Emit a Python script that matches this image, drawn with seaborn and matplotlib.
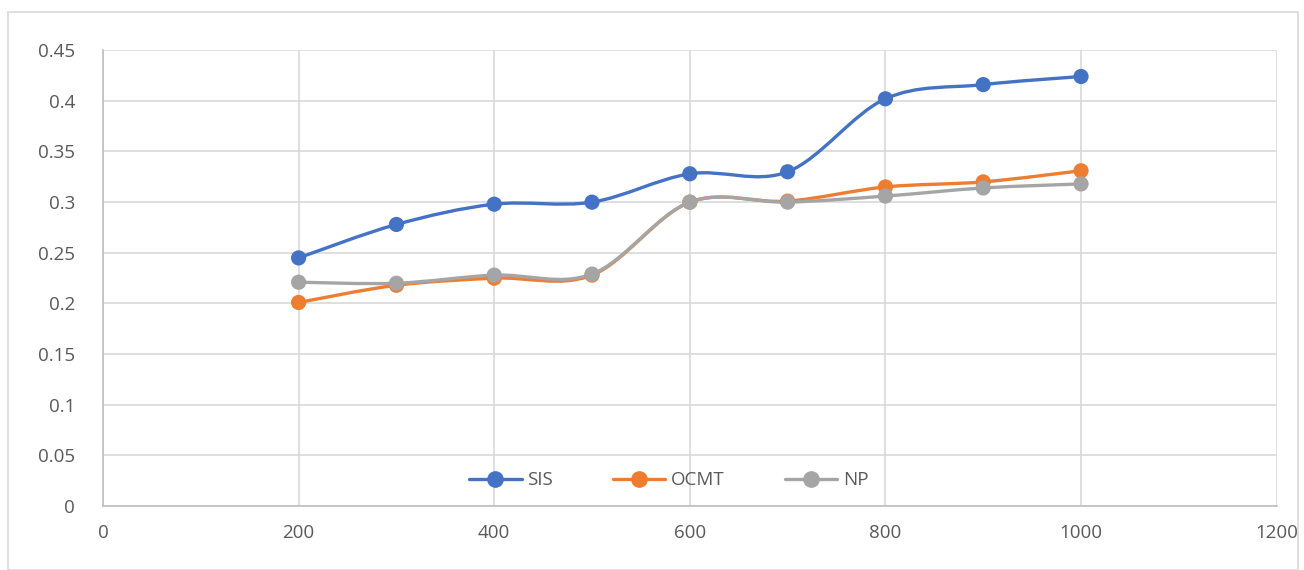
import numpy as np
import pandas as pd
import seaborn as sns
import matplotlib.pyplot as plt
from matplotlib.path import Path
from matplotlib.patches import PathPatch, Rectangle
from matplotlib.lines import Line2D

# data
n_values = [200, 300, 400, 500, 600, 700, 800, 900, 1000]
sis = [0.245, 0.278, 0.298, 0.300, 0.328, 0.330, 0.402, 0.416, 0.424]
ocmt = [0.201, 0.218, 0.225, 0.228, 0.300, 0.301, 0.315, 0.320, 0.331]
np_vals = [0.221, 0.220, 0.228, 0.229, 0.300, 0.300, 0.306, 0.314, 0.318]

series_names = ['SIS', 'OCMT', 'NP']
colors = ['#4472C4', '#ED7D31', '#A5A5A5']

x_ticks = [0, 200, 400, 600, 800, 1000, 1200]
y_ticks = [0, 0.05, 0.1, 0.15, 0.2, 0.25, 0.3, 0.35, 0.4, 0.45]
y_labels = ['0', '0.05', '0.1', '0.15', '0.2', '0.25', '0.3', '0.35', '0.4', '0.45']

df = pd.DataFrame({'n': n_values * 3,
                   'value': sis + ocmt + np_vals,
                   'method': [s for s in series_names for _ in n_values]})

sns.set_style('white')
plt.rcParams['font.family'] = ['Open Sans', 'DejaVu Sans']

fig = plt.figure(figsize=(13.04, 5.7), dpi=100)
ax = fig.add_axes([0.079, 0.112, 0.9, 0.8])

# outer chart border like excel
fig.patches.append(Rectangle((8 / 1304, 0), 1290 / 1304, 558 / 570, transform=fig.transFigure,
                             fill=False, edgecolor='#d9d9d9', linewidth=1.2))


def smooth_path(xs, ys):
    # excel-style smoothed line: catmull-rom as cubic bezier segments
    pts = np.column_stack([xs, ys]).astype(float)
    verts = [pts[0]]
    codes = [Path.MOVETO]
    n = len(pts)
    for i in range(n - 1):
        p0 = pts[i - 1] if i > 0 else pts[i]
        p1 = pts[i]
        p2 = pts[i + 1]
        p3 = pts[i + 2] if i + 2 < n else pts[i + 1]
        c1 = p1 + (p2 - p0) / 6
        c2 = p2 - (p3 - p1) / 6
        verts += [c1, c2, p2]
        codes += [Path.CURVE4] * 3
    return Path(verts, codes)


for name, col in zip(series_names, colors):
    sub = df[df.method == name]
    ax.add_patch(PathPatch(smooth_path(sub.n.values, sub.value.values), fill=False,
                           edgecolor=col, linewidth=2.4, capstyle='round', zorder=3))
    sns.scatterplot(data=sub, x='n', y='value', color=col, s=120, edgecolor='none',
                    ax=ax, zorder=4, legend=False)

ax.set_xlim(0, 1200)
ax.set_ylim(0, 0.45)
ax.set_xticks(x_ticks)
ax.set_yticks(y_ticks)
ax.set_yticklabels(y_labels)
ax.set_xlabel('')
ax.set_ylabel('')
ax.grid(True, color='#d9d9d9', linewidth=1.2)
ax.set_axisbelow(True)
for side in ['top', 'right']:
    ax.spines[side].set_visible(False)
for side in ['left', 'bottom']:
    ax.spines[side].set_color('#bfbfbf')
    ax.spines[side].set_linewidth(1.2)
ax.tick_params(length=0, labelsize=13.5, labelcolor='#595959')
ax.tick_params(axis='y', pad=20)
ax.tick_params(axis='x', pad=13)

handles = [Line2D([], [], color=c, linewidth=2.4, marker='o', markersize=11) for c in colors]
ax.legend(handles, series_names, loc='lower center', bbox_to_anchor=(0.482, 0.0), ncol=3,
          frameon=False, fontsize=13.5, labelcolor='#595959', columnspacing=3.2,
          handlelength=2.8, handletextpad=0.3)

plt.savefig('out.png', dpi=100)
